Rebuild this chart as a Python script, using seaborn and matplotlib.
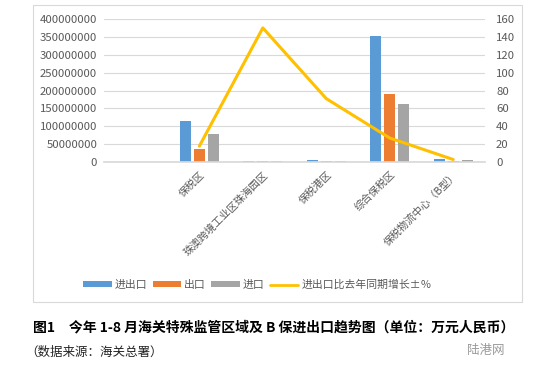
import pandas as pd
import matplotlib
matplotlib.use("Agg")
import matplotlib.pyplot as plt
import matplotlib.patches as mpatches
from matplotlib.lines import Line2D
import seaborn as sns

categories = ["", "保税区", "珠澳跨境工业区珠海园区", "保税港区", "综合保税区", "保税物流中心（B型）"]
total = [None, 115000000, 2500000, 7000000, 353000000, 9000000]
export = [None, 37000000, 2000000, 2500000, 191000000, 2000000]
imports = [None, 79000000, 2000000, 2500000, 163000000, 6000000]
growth = [None, 18, 150, 71, 27, 3]
series_names = ["进出口", "出口", "进口"]
line_name = "进出口比去年同期增长±％"

colors = ["#5B9BD5", "#ED7D31", "#A5A5A5"]
line_color = "#FFC000"
text_color = "#595959"

sns.set_theme(style="white")
plt.rcParams["font.family"] = ["Noto Sans CJK SC", "DejaVu Sans"]

rows = []
for name, vals in zip(series_names, [total, export, imports]):
    for cat, v in zip(categories, vals):
        rows.append({"cat": cat, "series": name, "value": v})
df = pd.DataFrame(rows)

fig = plt.figure(figsize=(5.6, 3.79), dpi=100)
ax = fig.add_axes([0.186, 0.572, 0.68, 0.378])

sns.barplot(data=df.dropna(), x="cat", y="value", hue="series", order=categories,
            hue_order=series_names, palette=colors, width=0.66, gap=0.2,
            linewidth=0, saturation=1, ax=ax, legend=False)
ax.set_ylim(0, 400000000)
ax.set_yticks(range(0, 400000001, 50000000))
ax.ticklabel_format(style="plain", axis="y")
ax.set_xlabel("")
ax.set_ylabel("")
ax.set_xlim(-0.5, len(categories) - 0.5)
ax.grid(axis="y", color="#D9D9D9", linewidth=0.8)
ax.set_axisbelow(True)
for s in ["top", "right", "left"]:
    ax.spines[s].set_visible(False)
ax.spines["bottom"].set_color("#D9D9D9")
ax.tick_params(axis="both", length=0, labelsize=8.2, colors=text_color, pad=5)
ax.set_xticks(range(len(categories)))
ax.set_xticklabels(categories, rotation=45, ha="right", rotation_mode="anchor",
                   fontsize=7.5, color=text_color)

ax2 = ax.twinx()
line_df = pd.DataFrame({"pos": range(len(categories)), "growth": growth}).dropna()
sns.lineplot(data=line_df, x="pos", y="growth", color=line_color, linewidth=2.2, ax=ax2)
ax2.set_ylim(0, 160)
ax2.set_yticks(range(0, 161, 20))
ax2.set_ylabel("")
ax2.set_xlabel("")
for s in ["top", "right", "left", "bottom"]:
    ax2.spines[s].set_visible(False)
ax2.tick_params(axis="y", length=0, labelsize=8.2, colors=text_color, pad=8)
ax2.grid(False)

# chart frame
fig.patches.append(mpatches.Rectangle((0.059, 0.203), 0.873, 0.784, transform=fig.transFigure,
                                      fill=False, edgecolor="#D9D9D9", linewidth=0.8))

handles = [mpatches.Patch(color=c, linewidth=0) for c in colors] + [Line2D([0], [0], color=line_color, lw=2)]
fig.legend(handles, series_names + [line_name], loc="center", bbox_to_anchor=(0.46, 0.248),
           ncol=4, frameon=False, fontsize=7.8, labelcolor=text_color, handlelength=2.6,
           handleheight=0.45, handletextpad=0.3, columnspacing=0.5)

fig.text(0.059, 0.137, "图1　今年 1-8 月海关特殊监管区域及 B 保进出口趋势图（单位：万元人民币）",
         fontsize=10, fontweight="bold", color="black", va="center")
fig.text(0.045, 0.071, "（数据来源：海关总署）", fontsize=9, color="#222222", va="center")
fig.text(0.9, 0.075, "陆港网", fontsize=9, color="#999999", va="center", ha="right")

fig.savefig("out.png", dpi=100, facecolor="white")
